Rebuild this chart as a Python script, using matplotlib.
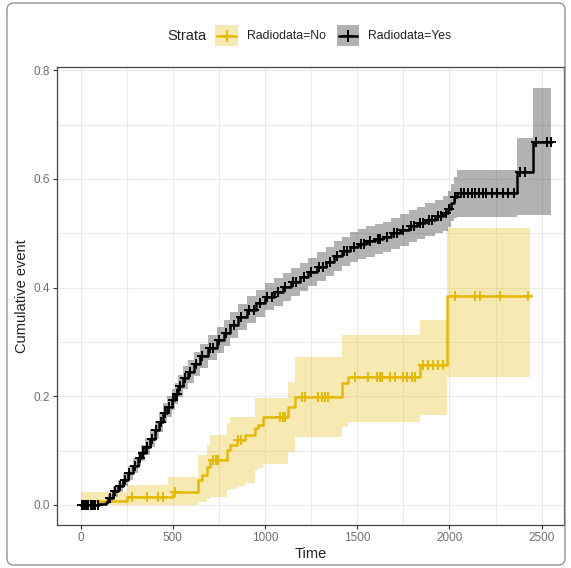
import numpy as np
import matplotlib
matplotlib.use("Agg")
from matplotlib import pyplot as plt
from matplotlib.patches import Rectangle, FancyBboxPatch
from matplotlib.lines import Line2D

plt.rcParams['font.family'] = ['Liberation Sans', 'DejaVu Sans']

# Radiodata=No : step times, cumulative event, 95% band
no_time = [0, 20, 250, 475, 502, 638, 656, 683, 701, 792, 810, 846, 891, 945, 963, 990,
           1126, 1162, 1418, 1451, 1840, 1987]
no_est = [0.000, 0.007, 0.015, 0.015, 0.024, 0.046, 0.055, 0.070, 0.083, 0.101, 0.110, 0.120,
          0.129, 0.141, 0.147, 0.162, 0.180, 0.199, 0.224, 0.236, 0.257, 0.384]
no_lo = [0.000, 0.000, 0.000, 0.000, 0.000, 0.006, 0.006, 0.010, 0.015, 0.028, 0.030, 0.035,
         0.040, 0.065, 0.068, 0.075, 0.097, 0.125, 0.143, 0.153, 0.165, 0.236]
no_hi = [0.024, 0.024, 0.037, 0.052, 0.052, 0.092, 0.092, 0.110, 0.129, 0.150, 0.162, 0.162,
         0.162, 0.196, 0.196, 0.196, 0.227, 0.272, 0.313, 0.313, 0.340, 0.509]
no_end = 2437
no_censor = [277, 358, 421, 448, 511, 720, 735, 745, 855, 870, 1081, 1097, 1108, 1198, 1216,
             1289, 1307, 1325, 1343, 1488, 1560, 1605, 1623, 1632, 1677, 1704, 1750, 1768,
             1795, 1813, 1859, 1886, 1913, 1940, 1967, 2030, 2138, 2166, 2275, 2426]

# Radiodata=Yes
yes_time = [0, 100, 140, 150, 175, 205, 230, 258, 285, 312, 330, 349, 375, 403, 425, 448,
            470, 493, 510, 529, 556, 584, 615, 647, 690, 739, 775, 810, 855, 902, 950, 1000,
            1050, 1097, 1140, 1190, 1235, 1281, 1330, 1375, 1420, 1460, 1505, 1550, 1595,
            1639, 1685, 1730, 1780, 1824, 1870, 1920, 1965, 1990, 2010, 2025, 2041, 2366, 2453]
yes_est = [0.000, 0.002, 0.005, 0.012, 0.025, 0.035, 0.046, 0.058, 0.072, 0.086, 0.096, 0.107,
           0.122, 0.138, 0.153, 0.169, 0.181, 0.193, 0.205, 0.218, 0.234, 0.245, 0.260, 0.274,
           0.289, 0.303, 0.317, 0.331, 0.345, 0.359, 0.371, 0.383, 0.392, 0.401, 0.410, 0.420,
           0.429, 0.438, 0.448, 0.458, 0.467, 0.475, 0.480, 0.485, 0.489, 0.493, 0.500, 0.506,
           0.513, 0.519, 0.525, 0.531, 0.537, 0.545, 0.556, 0.566, 0.574, 0.612, 0.668]
yes_lo = [0.000, 0.000, 0.000, 0.004, 0.015, 0.024, 0.034, 0.046, 0.059, 0.072, 0.081, 0.092,
          0.106, 0.121, 0.135, 0.151, 0.162, 0.174, 0.185, 0.198, 0.213, 0.224, 0.238, 0.252,
          0.266, 0.280, 0.293, 0.307, 0.321, 0.334, 0.346, 0.358, 0.367, 0.376, 0.385, 0.394,
          0.403, 0.412, 0.421, 0.431, 0.440, 0.448, 0.452, 0.457, 0.461, 0.465, 0.471, 0.477,
          0.484, 0.489, 0.495, 0.500, 0.505, 0.512, 0.522, 0.528, 0.530, 0.533, 0.533]
yes_hi = [0.000, 0.006, 0.011, 0.020, 0.035, 0.046, 0.058, 0.071, 0.086, 0.100, 0.111, 0.123,
          0.139, 0.155, 0.171, 0.188, 0.200, 0.213, 0.225, 0.239, 0.255, 0.267, 0.282, 0.297,
          0.312, 0.327, 0.341, 0.355, 0.370, 0.384, 0.396, 0.408, 0.418, 0.427, 0.436, 0.446,
          0.455, 0.465, 0.475, 0.485, 0.494, 0.502, 0.508, 0.513, 0.517, 0.521, 0.528, 0.535,
          0.542, 0.548, 0.555, 0.561, 0.568, 0.577, 0.590, 0.603, 0.616, 0.675, 0.767]
yes_end = 2550
yes_censor = [5, 18, 30, 42, 55, 68, 80, 95, 160, 185, 215, 240, 265, 295, 320, 340, 360, 385,
              410, 435, 455, 480, 500, 520, 540, 565, 595, 625, 660, 700, 720, 750, 790, 830,
              870, 915, 940, 975, 1010, 1040, 1070, 1110, 1150, 1170, 1210, 1250, 1295, 1315,
              1350, 1390, 1430, 1445, 1480, 1520, 1535, 1570, 1610, 1625, 1660, 1700, 1715,
              1750, 1790, 1805, 1840, 1855, 1890, 1905, 1940, 1955, 1980, 2000, 2030, 2060,
              2080, 2100, 2120, 2140, 2160, 2180, 2200, 2230, 2260, 2290, 2320, 2350, 2385,
              2410, 2470, 2530, 2550]

x_ticks = [0, 500, 1000, 1500, 2000, 2500]
y_ticks = [0.0, 0.2, 0.4, 0.6, 0.8]

col_no = "#E7B800"
col_yes = "black"


def draw_strata(ax, t, est, lo, hi, end, censor, col, z):
    t = np.array(t + [end])
    est = np.array(est + [est[-1]])
    lo = np.array(lo + [lo[-1]])
    hi = np.array(hi + [hi[-1]])
    ax.fill_between(t, lo, hi, step="post", color=col, alpha=0.3, lw=0, zorder=z)
    ax.step(t, est, where="post", color=col, lw=1.8, zorder=z + 2)
    c = np.array(censor)
    idx = np.searchsorted(t, c, side="right") - 1
    ax.plot(c, est[idx], ls="none", marker="+", ms=7.5, mew=1.4, color=col, zorder=z + 2)


fig = plt.figure(figsize=(5.71, 5.68), dpi=100)
ax = fig.add_axes([57 / 571, 1 - 525 / 568, 507 / 571, 458 / 568])

draw_strata(ax, no_time, no_est, no_lo, no_hi, no_end, no_censor, col_no, 2)
draw_strata(ax, yes_time, yes_est, yes_lo, yes_hi, yes_end, yes_censor, col_yes, 3)

ax.set_xlim(-128, 2621)
ax.set_ylim(-0.037, 0.806)
ax.set_xticks(x_ticks)
ax.set_yticks(y_ticks)
ax.set_xticks([250, 750, 1250, 1750, 2250], minor=True)
ax.set_yticks([0.1, 0.3, 0.5, 0.7], minor=True)
ax.set_yticklabels(["%.1f" % v for v in y_ticks])
ax.grid(which="both", color="#EBEBEB", lw=0.8)
ax.set_axisbelow(True)
ax.tick_params(which="major", length=3, width=0.8, color="#333333", labelsize=8.5,
               labelcolor="#707070", pad=2)
ax.tick_params(which="minor", length=0)
for s in ax.spines.values():
    s.set_color("#444444")
    s.set_linewidth(0.9)
ax.set_xlabel("Time", fontsize=10.5, color="#222222", labelpad=2)
ax.set_ylabel("Cumulative event", fontsize=10.5, color="#222222", labelpad=3)

# legend along the top
ly = 1 - 36 / 568
fig.text(167 / 571, ly, "Strata", fontsize=10.5, color="#222222", va="center")
for x0, w, col, lab in [(215, 23, col_no, "Radiodata=No"), (337, 22, col_yes, "Radiodata=Yes")]:
    fig.add_artist(Rectangle((x0 / 571, 1 - 46 / 568), w / 571, 21 / 568,
                             transform=fig.transFigure, facecolor=col, alpha=0.3, lw=0))
    fig.add_artist(Line2D([(x0 + 2) / 571, (x0 + w - 2) / 571], [ly, ly],
                          transform=fig.transFigure, color=col, lw=1.8))
    fig.add_artist(Line2D([(x0 + w / 2) / 571], [ly], transform=fig.transFigure,
                          color=col, marker="+", ls="none", ms=8, mew=1.4))
    fig.text((x0 + w + 9) / 571, ly, lab, fontsize=8.8, color="#222222", va="center")

# outer frame
fig.add_artist(FancyBboxPatch((7 / 571, 3 / 568), 558 / 571, 562 / 568,
                              boxstyle="round,pad=0,rounding_size=0.012",
                              transform=fig.transFigure, facecolor="none",
                              edgecolor="#8a8a8a", lw=0.9))

fig.savefig("out.png", dpi=100)
